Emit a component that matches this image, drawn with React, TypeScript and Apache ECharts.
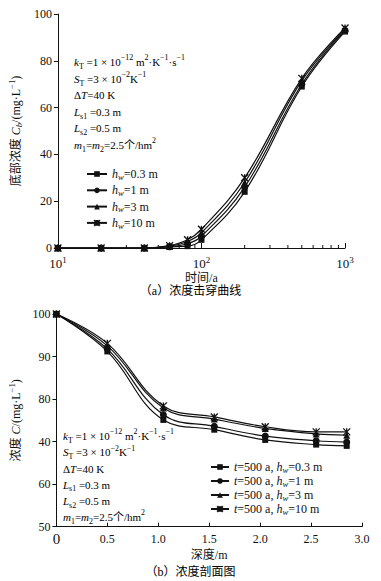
import React, { useEffect, useRef } from "react";
import * as echarts from "echarts";

// ---- chart (a): breakthrough curves ----
const timeA = [10, 20, 40, 60, 80, 100, 200, 500, 1000];
const cbHw03 = [0, 0, 0, 0.5, 0.8, 3.5, 24, 69, 92.5];
const cbHw1 = [0, 0, 0, 0.6, 1.8, 5, 26, 70, 93];
const cbHw3 = [0, 0, 0, 0.8, 2.8, 6.5, 28, 71.5, 93.5];
const cbHw10 = [0, 0, 0, 1, 3.5, 8, 30, 72.5, 94];
const minorTicksA = [20, 30, 40, 50, 60, 70, 80, 90, 200, 300, 400, 500, 600, 700, 800, 900];
const xExpA: Record<number, string> = { 10: "1", 100: "2", 1000: "3" };

// ---- chart (b): concentration profiles ----
const depthB = [0, 0.5, 1.05, 1.55, 2.05, 2.55, 2.85];
const cHw03 = [100, 91.2, 75.1, 72.8, 70.4, 69.3, 69.0];
const cHw1 = [100, 91.8, 76.3, 73.6, 71.3, 70.2, 69.9];
const cHw3 = [100, 92.5, 77.9, 75.3, 73.1, 71.8, 71.5];
const cHw10 = [100, 93.1, 78.4, 75.8, 73.5, 72.3, 72.3];
const yTickLabelsB = ["50", "60", "40", "80", "90", "100"];
const xTickLabelsB = ["0", "0.5", "1.0", "1.5", "2.0", "2.5", "3.0"];

const hwNames = ["0.3 m", "1 m", "3 m", "10 m"];

const FONT = "'Liberation Serif', 'Noto Sans CJK SC', serif";
const INK = "#111";

const starPath = "path://M0 0L10 10M10 0L0 10M5 0L5 10";
const symbols = ["rect", "circle", "triangle", starPath];
const symbolSizes = [6, 7, 7, 7];

const rich = (fs: number, lh: number) => ({
  n: { fontFamily: FONT, fontSize: fs, lineHeight: lh, color: INK },
  i: { fontFamily: FONT, fontSize: fs, lineHeight: lh, fontStyle: "italic", color: INK },
  sub: { fontFamily: FONT, fontSize: fs * 0.72, lineHeight: fs * 0.72, verticalAlign: "bottom", color: INK },
  isub: { fontFamily: FONT, fontSize: fs * 0.72, lineHeight: fs * 0.72, verticalAlign: "bottom", fontStyle: "italic", color: INK },
  sup: { fontFamily: FONT, fontSize: fs * 0.72, lineHeight: fs * 0.72, verticalAlign: "top", color: INK },
});

const paramLines = [
  "{i|k}{sub|T}{n| =1 × 10}{sup|−12}{n| m}{sup|2}{n|·K}{sup|−1}{n|·s}{sup|−1}",
  "{i|S}{sub|T}{n| =3 × 10}{sup|−2}{n|K}{sup|−1}",
  "{n|Δ}{i|T}{n|=40 K}",
  "{i|L}{sub|s1}{n| =0.3 m}",
  "{i|L}{sub|s2}{n| =0.5 m}",
  "{i|m}{sub|1}{n|=}{i|m}{sub|2}{n|=2.5个/hm}{sup|2}",
];

export default function App() {
  const ref = useRef<HTMLDivElement>(null);
  useEffect(() => {
    if (!ref.current) return;
    const chart = echarts.init(ref.current, undefined, { renderer: "svg" });
    const seriesA = [cbHw03, cbHw1, cbHw3, cbHw10];
    const seriesB = [cHw03, cHw1, cHw3, cHw10];
    const namesA = hwNames.map((h) => "A hw=" + h);
    const namesB = hwNames.map((h) => "B hw=" + h);
    const legendFmtA: Record<string, string> = {};
    const legendFmtB: Record<string, string> = {};
    hwNames.forEach((h, k) => {
      legendFmtA[namesA[k]] = `{i|h}{isub|w}{n|=${h}}`;
      legendFmtB[namesB[k]] = `{i|t}{n|=500 a, }{i|h}{isub|w}{n|=${h}}`;
    });

    const lineCommon = (k: number) => ({
      type: "line",
      smooth: 0.4,
      symbol: symbols[k],
      symbolSize: symbolSizes[k],
      showSymbol: true,
      lineStyle: { color: INK, width: 1.2 },
      itemStyle: k === 3 ? { color: INK, borderColor: INK, borderWidth: 1.3 } : { color: INK },
      z: 3,
    });

    const axisLabelStyle = { fontFamily: FONT, fontSize: 12, color: INK };

    const option: any = {
      animation: false,
      backgroundColor: "#fff",
      grid: [
        { left: 55, top: 14, width: 290, height: 234 },
        { left: 54, top: 314, width: 308, height: 212.7 },
      ],
      xAxis: [
        {
          gridIndex: 0,
          type: "log",
          logBase: 10,
          min: 10,
          max: 1000,
          axisLine: { lineStyle: { color: INK, width: 1 } },
          axisTick: { inside: true, length: 5, lineStyle: { color: INK } },
          splitLine: { show: false },
          axisLabel: {
            margin: 7,
            formatter: (v: number) => `{b|10}{e|${xExpA[Math.round(v)] ?? ""}}`,
            rich: {
              b: { fontFamily: FONT, fontSize: 13, lineHeight: 16, color: INK },
              e: { fontFamily: FONT, fontSize: 9, lineHeight: 9, verticalAlign: "top", color: INK },
            },
          },
          name: "{n|时间/a}",
          nameLocation: "middle",
          nameGap: 22,
          nameTextStyle: { rich: rich(12, 15) },
        },
        {
          gridIndex: 1,
          type: "value",
          min: 0,
          max: 3,
          interval: 0.5,
          axisLine: { lineStyle: { color: INK, width: 1 } },
          axisTick: { inside: true, length: 4, lineStyle: { color: INK } },
          splitLine: { show: false },
          axisLabel: {
            ...axisLabelStyle,
            margin: 6,
            formatter: (v: number) => {
              const s = xTickLabelsB[Math.round(v * 2)];
              return v === 0 ? `{z|${s}}` : `{n|${s}}`;
            },
            rich: {
              n: { fontFamily: FONT, fontSize: 12, lineHeight: 13, color: INK },
              z: { fontFamily: FONT, fontSize: 15, lineHeight: 13, color: INK },
            },
          },
          name: "{n|深度/m}",
          nameLocation: "middle",
          nameGap: 22,
          nameTextStyle: { rich: rich(12, 12) },
        },
      ],
      yAxis: [
        {
          gridIndex: 0,
          type: "value",
          min: 0,
          max: 100,
          interval: 20,
          axisLine: { show: true, lineStyle: { color: INK, width: 1 } },
          axisTick: { show: true, length: 4, lineStyle: { color: INK } },
          splitLine: { show: false },
          axisLabel: { ...axisLabelStyle, margin: 6 },
          name: "{n|底部浓度 }{i|C}{isub|b}{n|/(mg·L}{sup|−1}{n|)}",
          nameLocation: "middle",
          nameGap: 30,
          nameTextStyle: { rich: rich(12, 15) },
        },
        {
          gridIndex: 1,
          type: "value",
          min: 50,
          max: 100,
          interval: 10,
          axisLine: { show: true, lineStyle: { color: INK, width: 1 } },
          axisTick: { show: true, length: 4, lineStyle: { color: INK } },
          splitLine: { show: false },
          axisLabel: {
            ...axisLabelStyle,
            margin: 6,
            formatter: (v: number) => yTickLabelsB[Math.round((v - 50) / 10)],
          },
          name: "{n|浓度 }{i|C}{n|/(mg·L}{sup|−1}{n|)}",
          nameLocation: "middle",
          nameGap: 31,
          nameTextStyle: { rich: rich(12, 15) },
        },
      ],
      legend: [
        {
          data: namesA,
          orient: "vertical",
          left: 81,
          top: 163,
          itemWidth: 20,
          itemHeight: 7,
          itemGap: 3.3,
          selectedMode: false,
          formatter: (n: string) => legendFmtA[n],
          textStyle: { rich: rich(12, 14) },
        },
        {
          data: namesB,
          orient: "vertical",
          left: 205,
          top: 456,
          itemWidth: 18,
          itemHeight: 7,
          itemGap: 1,
          selectedMode: false,
          formatter: (n: string) => legendFmtB[n],
          textStyle: { rich: rich(12, 14) },
        },
      ],
      series: [
        ...seriesA.map((arr, k) => ({
          ...lineCommon(k),
          name: namesA[k],
          xAxisIndex: 0,
          yAxisIndex: 0,
          data: timeA.map((t, j) => [t, arr[j]]),
        })),
        ...seriesB.map((arr, k) => ({
          ...lineCommon(k),
          name: namesB[k],
          xAxisIndex: 1,
          yAxisIndex: 1,
          data: depthB.map((d, j) => [d, arr[j]]),
        })),
        {
          type: "custom",
          name: "minorTicks",
          xAxisIndex: 0,
          yAxisIndex: 0,
          silent: true,
          data: minorTicksA.map((v) => [v, 0]),
          renderItem: (params: any, api: any) => {
            const p = api.coord([api.value(0), 0]);
            return {
              type: "line",
              shape: { x1: p[0], y1: p[1], x2: p[0], y2: p[1] - 3 },
              style: { stroke: INK, lineWidth: 1 },
            };
          },
          z: 2,
        },
      ],
      graphic: [
        {
          type: "text",
          left: 74,
          top: 54,
          style: { text: paramLines.join("\n"), rich: rich(11, 16.5) },
        },
        {
          type: "text",
          left: 63,
          top: 428,
          style: { text: paramLines.join("\n"), rich: rich(11, 16.2) },
        },
        {
          type: "text",
          left: "center",
          top: 285,
          style: { text: "{n|（a）浓度击穿曲线}", rich: rich(12, 16) },
        },
        {
          type: "text",
          left: "center",
          top: 566,
          style: { text: "{n|（b）浓度剖面图}", rich: rich(12, 14) },
        },
      ],
    };
    chart.setOption(option);
    return () => chart.dispose();
  }, []);
  return (
    <div
      ref={ref}
      style={{ position: "fixed", left: 0, top: 0, width: 381, height: 581, background: "#fff" }}
    />
  );
}
